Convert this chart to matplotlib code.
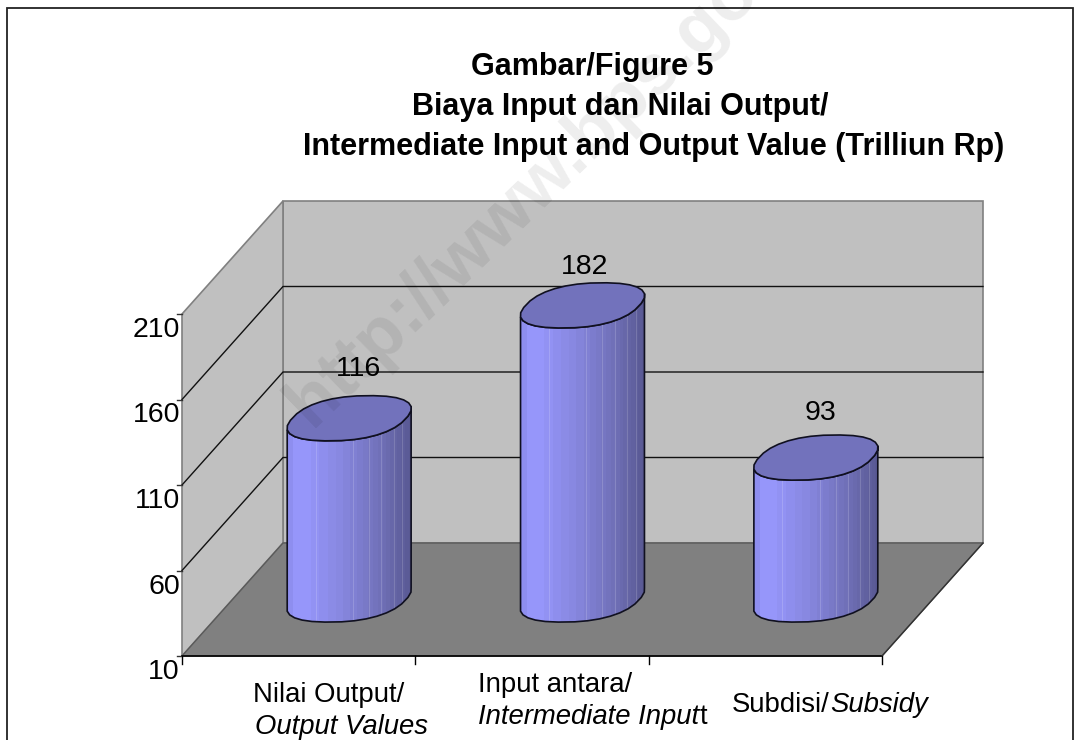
import numpy as np
import matplotlib
matplotlib.use("Agg")
import matplotlib.pyplot as plt
from matplotlib.colors import LinearSegmentedColormap
from matplotlib.patches import Polygon, Rectangle

plt.rcParams['font.family'] = ['Liberation Sans', 'DejaVu Sans']

# data
values = [116, 182, 93]
value_labels = ['116', '182', '93']
y_ticks = [10, 60, 110, 160, 210]
title_lines = ['Gambar/Figure 5', 'Biaya Input dan Nilai Output/',
               'Intermediate Input and Output Value (Trilliun Rp)']

# layout of the fake 3d box, in pixels
x0, x1 = 182, 882
y0 = 656
unit = 1.71
dx, dy = 101, -113
ymin, ymax = y_ticks[0], y_ticks[-1]


def val_y(v):
    return y0 - (v - ymin) * unit


def ellipse(cx, cy, n=30):
    # slightly squared ellipse, seen in the same shear as the floor
    t = np.linspace(0, 2 * np.pi, n, endpoint=False) + 0.06
    c = np.sign(np.cos(t)) * np.abs(np.cos(t)) ** 0.85
    s = np.sign(np.sin(t)) * np.abs(np.sin(t)) ** 0.85
    d = 0.2
    xs = cx + 57 * c + d * dx * s
    ys = cy + d * dy * s
    return np.column_stack([xs, ys])


def front_arc(pts):
    # points from the leftmost to the rightmost one along the near side
    i, j = np.argmin(pts[:, 0]), np.argmax(pts[:, 0])
    n = len(pts)
    return pts[[(i + k) % n for k in range((j - i) % n + 1)]]


fig = plt.figure(figsize=(10.8, 7.4), dpi=100)
ax = fig.add_axes([0, 0, 1, 1])
ax.set_xlim(0, 1080)
ax.set_ylim(740, 0)
ax.axis('off')

# outer frame
ax.add_patch(Rectangle((7, 8), 1066, 740, fc='white', ec='#222222', lw=1.3, zorder=0))

# walls and floor
ytop = val_y(ymax)
wall = '#c0c0c0'
ax.add_patch(Polygon([(x0 + dx, y0 + dy), (x1 + dx, y0 + dy), (x1 + dx, ytop + dy), (x0 + dx, ytop + dy)],
                     fc=wall, ec='#808080', lw=1.2, zorder=1))
ax.add_patch(Polygon([(x0, y0), (x0 + dx, y0 + dy), (x0 + dx, ytop + dy), (x0, ytop)],
                     fc=wall, ec='#808080', lw=1.2, zorder=1))
ax.add_patch(Polygon([(x0, y0), (x1, y0), (x1 + dx, y0 + dy), (x0 + dx, y0 + dy)],
                     fc='#808080', ec='#5a5a5a', lw=1.0, zorder=2))
ax.plot([x0, x1], [y0, y0], color='black', lw=1.2, zorder=3)
ax.plot([x1, x1 + dx], [y0, y0 + dy], color='#333333', lw=1.0, zorder=3)

# grid lines
for v in y_ticks[1:-1]:
    y = val_y(v)
    ax.plot([x0, x0 + dx, x1 + dx], [y, y + dy, y + dy], color='#111111', lw=1.0, zorder=2)

# ticks and tick labels
for v in y_ticks:
    y = val_y(v)
    ax.plot([x0 - 5, x0], [y, y], color='#333333', lw=1.0, zorder=3)
    ax.text(x0 - 2, y + 16, str(v), ha='right', va='center', fontsize=20.5, color='black', zorder=6)

slot = (x1 - x0) / len(values)
for i in range(len(values) + 1):
    ax.plot([x0 + i * slot] * 2, [y0, y0 + 8], color='black', lw=1.0, zorder=3)

# cylinders
stops = [(0.0, '#8a8aea'), (0.1, '#9999ff'), (0.45, '#8686de'), (0.75, '#7070b8'), (1.0, '#585892')]
cmap = LinearSegmentedColormap.from_list('cyl', stops)
band_edges = np.array([0, .05, .11, .19, .26, .33, .39, .45, .51, .56, .61, .65, .69, .73, .77, .8,
                       .83, .86, .89, .92, .95, .98, 1])
light_lines = [.23, .53, .66, .76, .86, .93]
for i, v in enumerate(values):
    cx = x0 + (i + 0.5) * slot + dx / 2
    cy_base = y0 + dy / 2
    cy_top = val_y(v) + dy / 2
    top = ellipse(cx, cy_top)
    base = ellipse(cx, cy_base)
    body = np.vstack([front_arc(base), front_arc(top)[::-1]])
    left, right = body[:, 0].min(), body[:, 0].max()
    clip = Polygon(body, closed=True, fc='none', ec='none', transform=ax.transData)
    ax.add_patch(clip)
    mids = (band_edges[:-1] + band_edges[1:]) / 2
    xs = left + band_edges * (right - left)
    mesh = ax.pcolormesh(xs, [cy_top - 40, cy_base + 40], cmap(mids)[np.newaxis, :, :3],
                         shading='flat', zorder=4, rasterized=True)
    mesh.set_clip_path(clip)
    for f in light_lines:
        ln, = ax.plot([left + f * (right - left)] * 2, [cy_top - 40, cy_base + 40],
                      color='white', alpha=0.16, lw=0.8, zorder=4)
        ln.set_clip_path(clip)
    ax.add_patch(Polygon(body, closed=True, fc='none', ec='#101020', lw=1.2, zorder=5))
    ax.add_patch(Polygon(top, closed=True, fc='#7272bc', ec='#101020', lw=1.2, zorder=5))

# value labels
label_x = [358, 585, 820]
label_y = [369, 267, 413]
for s, lx, ly in zip(value_labels, label_x, label_y):
    ax.text(lx, ly, s, ha='center', va='center', fontsize=20.5, color='black', zorder=6)

# title
title_x = [471, 412, 303]
title_y = [67, 107, 147]
for s, tx, ty in zip(title_lines, title_x, title_y):
    ax.text(tx, ty, s, ha='left', va='center', fontsize=22, fontweight='bold', color='black', zorder=6)

# category labels
fs = 19.8
ax.text(253, 695, 'Nilai Output/', ha='left', va='center', fontsize=fs)
ax.text(255, 727, 'Output Values', ha='left', va='center', fontsize=fs, style='italic')
ax.text(478, 685, 'Input antara/', ha='left', va='center', fontsize=fs)
t1 = ax.text(478, 717, 'Intermediate Input', ha='left', va='center', fontsize=fs, style='italic')
ax.annotate('t', xy=(1, 0.5), xycoords=t1, va='center', ha='left', fontsize=fs)
t2 = ax.text(732, 705, 'Subdisi/', ha='left', va='center', fontsize=fs)
ax.annotate('Subsidy', xy=(1, 0.5), xycoords=t2, va='center', ha='left', fontsize=fs, style='italic')

# watermark
ax.text(312, 428, 'http://www.bps.go.id', rotation=44, rotation_mode='anchor', ha='left', va='baseline',
        fontsize=52, fontweight='bold', color='black', alpha=0.07, zorder=7)

fig.savefig('out.png', dpi=100)
